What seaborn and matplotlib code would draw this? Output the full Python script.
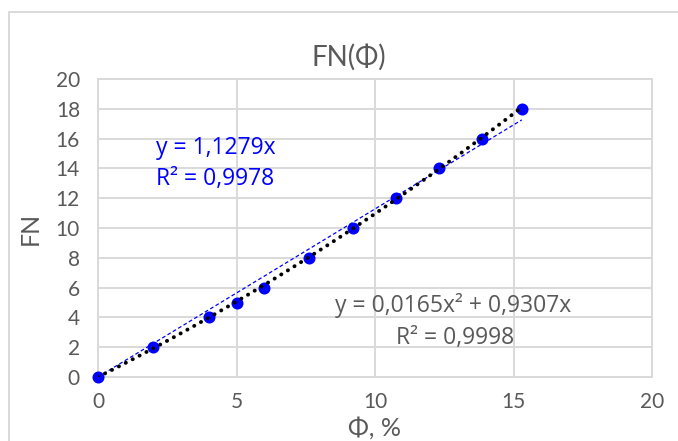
import matplotlib
matplotlib.use("Agg")
import matplotlib.pyplot as plt
import matplotlib.patches as mpatches
import numpy as np
import pandas as pd
import seaborn as sns

# Measured data
phi = [0, 2, 4, 5, 6, 7.6, 9.2, 10.75, 12.3, 13.85, 15.3]
fn = [0, 2, 4, 5, 6, 8, 10, 12, 14, 16, 18]

# Trendline coefficients
lin_slope = 1.1279
lin_r2 = 0.9978
poly_a = 0.0165
poly_b = 0.9307
poly_r2 = 0.9998

x_ticks = [0, 5, 10, 15, 20]
y_ticks = [0, 2, 4, 6, 8, 10, 12, 14, 16, 18, 20]

sns.set_theme(style="white")
plt.rcParams["font.family"] = ["Lato", "DejaVu Sans"]

TXT = "#595959"
GRID = "#d9d9d9"
EQ_FONT = ["Open Sans", "DejaVu Sans"]

fig = plt.figure(figsize=(6.78, 4.41), dpi=100)
ax = fig.add_axes([98 / 678, 1 - 377 / 441, (652 - 98) / 678, (377 - 79) / 441])

df = pd.DataFrame({"phi": phi, "fn": fn})
x_fit = np.linspace(0, max(phi), 200)
fit = pd.DataFrame({
    "x": x_fit,
    "lin": lin_slope * x_fit,
    "poly": poly_a * x_fit ** 2 + poly_b * x_fit,
})

sns.scatterplot(data=df, x="phi", y="fn", ax=ax, color="#0000ff", s=75,
                edgecolor="#0000ff", linewidth=0, zorder=3, clip_on=False)
sns.lineplot(data=fit, x="x", y="lin", ax=ax, color="#0000ff", lw=0.9,
             zorder=4)
ax.lines[-1].set_dashes([3, 2])
sns.lineplot(data=fit, x="x", y="poly", ax=ax, color="black", lw=2.8,
             zorder=5)
pl = ax.lines[-1]
pl.set_linestyle((0, (0.05, 1.95)))
pl.set_dash_capstyle("round")

ax.set_xlim(0, 20)
ax.set_ylim(0, 20)
ax.set_xticks(x_ticks)
ax.set_yticks(y_ticks)
ax.grid(True, color=GRID, lw=1.4)
ax.set_axisbelow(True)
for s in ax.spines.values():
    s.set_color(GRID)
    s.set_linewidth(1.4)
ax.tick_params(axis="both", length=0, labelsize=15, labelcolor=TXT)
ax.tick_params(axis="y", pad=13)
ax.tick_params(axis="x", pad=11)
ax.set_xlabel("")
ax.set_ylabel("")

fig.text(30 / 678, 1 - 228 / 441, "FN", rotation=90, ha="center", va="center",
         fontsize=18, color=TXT)
fig.text(375 / 678, 1 - 428 / 441, "Φ, %", ha="center", va="center",
         fontsize=18, color=TXT)
fig.text(349 / 678, 1 - 57 / 441, "FN(Φ)", ha="center", va="center",
         fontsize=20, color=TXT)

ax.text(2.1, 15.35, f"y = {lin_slope:.4f}x".replace(".", ","),
        color="#0000ff", fontsize=16.5, ha="left", va="center", family=EQ_FONT)
ax.text(2.1, 13.3, f"R² = {lin_r2:.4f}".replace(".", ","),
        color="#0000ff", fontsize=16.5, ha="left", va="center", family=EQ_FONT)
ax.text(8.55, 4.8, f"y = {poly_a:.4f}x² + {poly_b:.4f}x".replace(".", ","),
        color=TXT, fontsize=16.5, ha="left", va="center", family=EQ_FONT)
ax.text(12.9, 2.6, f"R² = {poly_r2:.4f}".replace(".", ","),
        color=TXT, fontsize=16.5, ha="center", va="center", family=EQ_FONT)

fig.patches.append(mpatches.Rectangle((9 / 678, -0.1), 1.2, 0.1 + 1 - 12 / 441,
                                      transform=fig.transFigure, fill=False,
                                      edgecolor=GRID, lw=1.4))

fig.savefig("out.png", dpi=100, facecolor="white")
